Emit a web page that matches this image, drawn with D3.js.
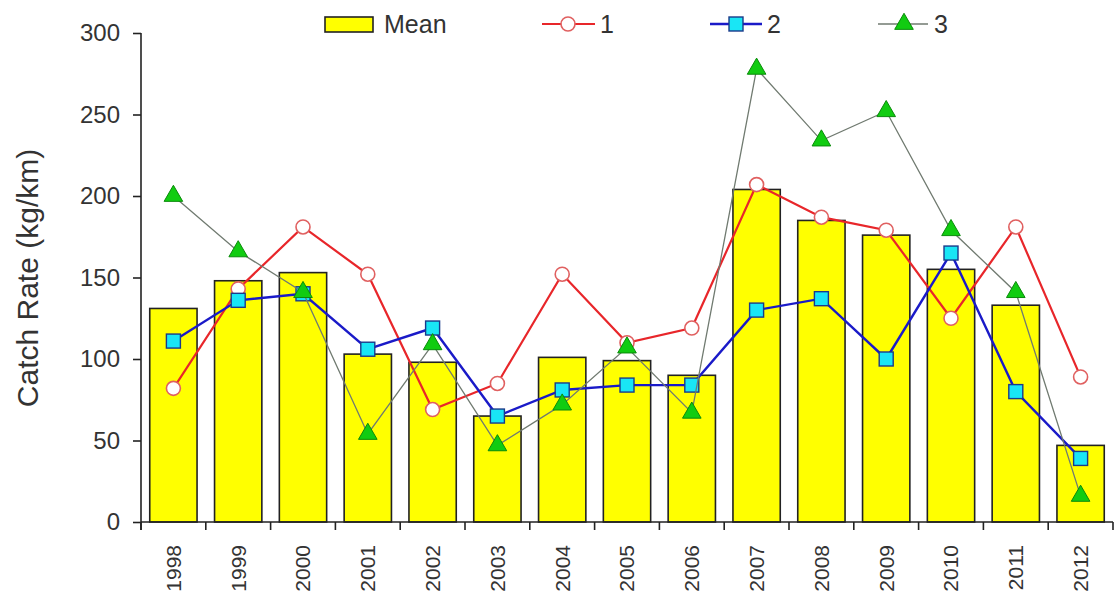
<!DOCTYPE html>
<html><head><meta charset="utf-8">
<script src="https://cdn.jsdelivr.net/npm/d3@7"></script>
<style>
body{margin:0;background:#fff;}
text{font-family:"Liberation Sans",Arial,sans-serif;fill:#333;}
</style></head>
<body><svg id="c" width="1114" height="597"></svg>
<script>
const years = ["1998","1999","2000","2001","2002","2003","2004","2005","2006","2007","2008","2009","2010","2011","2012"];
const meanValues = [131,148,153,103,98,65,101,99,90,204,185,176,155,133,47];
const series1 = [82,143,181,152,69,85,152,110,119,207,187,179,125,181,89];
const series2 = [111,136,140,106,119,65,81,84,84,130,137,100,165,80,39];
const series3 = [200,166,141,54,109,47,72,107,67,278,234,252,179,141,16];
const yTicks = [0,50,100,150,200,250,300];
const legendLabels = ["Mean","1","2","3"];

const svg = d3.select("#c");
const m = {left:141, top:33, right:1113, bottom:522};
const x = d3.scaleBand().domain(years).range([m.left, m.right]).paddingInner(0.27).paddingOuter(0.135);
const y = d3.scaleLinear().domain([0,300]).range([m.bottom, m.top]);

// bars
svg.append("g").selectAll("rect").data(meanValues).join("rect")
  .attr("x",(d,i)=>x(years[i])).attr("width",x.bandwidth())
  .attr("y",d=>y(d)).attr("height",d=>y(0)-y(d))
  .attr("fill","#ffff00").attr("stroke","#222").attr("stroke-width",1.6);

// y axis
const ya = svg.append("g").attr("transform",`translate(${m.left},0)`)
  .call(d3.axisLeft(y).tickValues(yTicks).tickSize(8).tickPadding(13));
ya.select(".domain").remove();
ya.selectAll(".tick line").attr("stroke","#222").attr("stroke-width",1.6);
ya.selectAll(".tick text").style("font-size","24px").attr("fill","#333");
svg.append("line").attr("x1",m.left).attr("x2",m.left).attr("y1",y(300)).attr("y2",y(0)+8)
  .attr("stroke","#222").attr("stroke-width",1.6);

// x axis
svg.append("line").attr("x1",m.left).attr("x2",m.right).attr("y1",y(0)).attr("y2",y(0))
  .attr("stroke","#222").attr("stroke-width",1.6);
const step = x.step();
const bounds = d3.range(years.length+1).map(i=>m.left+i*step);
svg.append("g").selectAll("line").data(bounds).join("line")
  .attr("x1",d=>d).attr("x2",d=>d).attr("y1",y(0)).attr("y2",y(0)+8)
  .attr("stroke","#222").attr("stroke-width",1.6);
svg.append("g").selectAll("text").data(years).join("text")
  .attr("transform",d=>`translate(${x(d)+x.bandwidth()/2},${y(0)+23}) rotate(-90)`)
  .attr("text-anchor","end").attr("dy","0.35em").style("font-size","21px").text(d=>d);

// y title
svg.append("text").attr("transform","translate(27,278) rotate(-90)")
  .attr("text-anchor","middle").attr("dy","0.35em").style("font-size","30px").text("Catch Rate (kg/km)");

const cx = (d,i)=>x(years[i])+x.bandwidth()/2;
const line = d3.line().x((d,i)=>cx(d,i)).y(d=>y(d));
const tri = d3.symbol().type(d3.symbolTriangle).size(150);
const sq = 14;

// series 1
svg.append("path").datum(series1).attr("d",line).attr("fill","none").attr("stroke","#e8262a").attr("stroke-width",2.2);
svg.append("g").selectAll("circle").data(series1).join("circle")
  .attr("cx",cx).attr("cy",d=>y(d)).attr("r",7)
  .attr("fill","#fff").attr("stroke","#e06060").attr("stroke-width",1.6);
// series 2
svg.append("path").datum(series2).attr("d",line).attr("fill","none").attr("stroke","#1a1ac8").attr("stroke-width",2.4);
svg.append("g").selectAll("rect").data(series2).join("rect")
  .attr("x",(d,i)=>cx(d,i)-sq/2).attr("y",d=>y(d)-sq/2).attr("width",sq).attr("height",sq)
  .attr("fill","#19e6f5").attr("stroke","#1a3a8a").attr("stroke-width",1.4);
// series 3
svg.append("path").datum(series3).attr("d",line).attr("fill","none").attr("stroke","#707a70").attr("stroke-width",1.3);
svg.append("g").selectAll("path").data(series3).join("path")
  .attr("d",tri).attr("transform",(d,i)=>`translate(${cx(d,i)},${y(d)})`)
  .attr("fill","#11cc11").attr("stroke","#0a8a0a").attr("stroke-width",1);

// legend
const lg = svg.append("g");
const ly = 24;
lg.append("rect").attr("x",325).attr("y",17).attr("width",48).attr("height",15)
  .attr("fill","#ffff00").attr("stroke","#222").attr("stroke-width",1.6);
lg.append("text").attr("x",384).attr("y",ly).attr("dy","0.35em").style("font-size","25px").text(legendLabels[0]);
// 1
lg.append("line").attr("x1",542).attr("x2",595).attr("y1",ly).attr("y2",ly).attr("stroke","#e8262a").attr("stroke-width",2.2);
lg.append("circle").attr("cx",568).attr("cy",ly).attr("r",7).attr("fill","#fff").attr("stroke","#e06060").attr("stroke-width",1.6);
lg.append("text").attr("x",600).attr("y",ly).attr("dy","0.35em").style("font-size","25px").text(legendLabels[1]);
// 2
lg.append("line").attr("x1",710).attr("x2",762).attr("y1",ly).attr("y2",ly).attr("stroke","#1a1ac8").attr("stroke-width",2.4);
lg.append("rect").attr("x",736-sq/2).attr("y",ly-sq/2).attr("width",sq).attr("height",sq)
  .attr("fill","#19e6f5").attr("stroke","#1a3a8a").attr("stroke-width",1.4);
lg.append("text").attr("x",767).attr("y",ly).attr("dy","0.35em").style("font-size","25px").text(legendLabels[2]);
// 3
lg.append("line").attr("x1",878).attr("x2",928).attr("y1",ly).attr("y2",ly).attr("stroke","#707a70").attr("stroke-width",1.3);
lg.append("path").attr("d",tri).attr("transform",`translate(904,${ly})`).attr("fill","#11cc11").attr("stroke","#0a8a0a").attr("stroke-width",1);
lg.append("text").attr("x",934).attr("y",ly).attr("dy","0.35em").style("font-size","25px").text(legendLabels[3]);
</script></body></html>
